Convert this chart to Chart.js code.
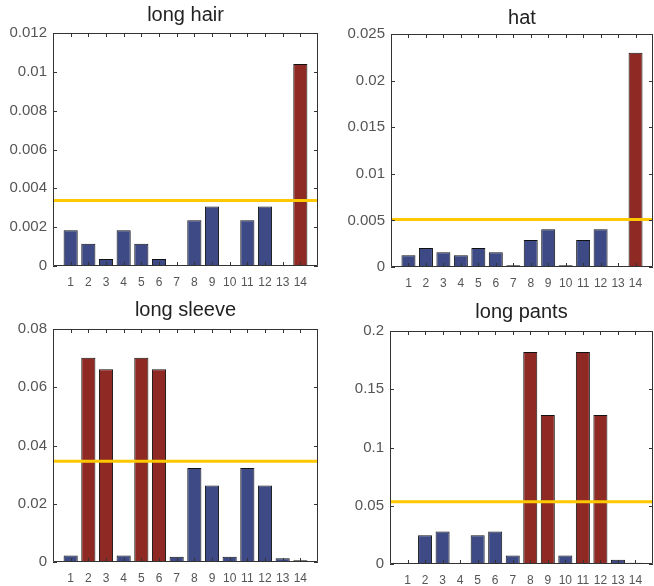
<!DOCTYPE html>
<html>
<head>
<meta charset="utf-8">
<script src="https://cdn.jsdelivr.net/npm/chart.js@4/dist/chart.umd.min.js"></script>
<style>
  html, body { margin: 0; padding: 0; background: #fff; }
  body { width: 654px; height: 586px; overflow: hidden; position: relative; }
  canvas { position: absolute; }
</style>
</head>
<body>
<canvas id="c0"></canvas>
<canvas id="c1"></canvas>
<canvas id="c2"></canvas>
<canvas id="c3"></canvas>
<script>
// data
const categories = [1, 2, 3, 4, 5, 6, 7, 8, 9, 10, 11, 12, 13, 14];
const titles = ["long hair", "hat", "long sleeve", "long pants"];

const longHair = [0.00184, 0.00115, 0.00036, 0.00184, 0.00115, 0.00036, 0.00002, 0.00236, 0.00306, 0.00002, 0.00236, 0.00306, 0.00005, 0.0104];
const hat = [0.00125, 0.00204, 0.00158, 0.00125, 0.00204, 0.00158, 0.0002, 0.0029, 0.00405, 0.0002, 0.0029, 0.00405, 0.00003, 0.0230];
const longSleeve = [0.0022, 0.0701, 0.0662, 0.0022, 0.0701, 0.0662, 0.0018, 0.0323, 0.0263, 0.0018, 0.0323, 0.0263, 0.0013, 0.0006];
const longPants = [0.0002, 0.0247, 0.0278, 0.0002, 0.0247, 0.0278, 0.0072, 0.182, 0.128, 0.0072, 0.182, 0.128, 0.0037, 0.0011];
const series = [longHair, hat, longSleeve, longPants];

const thresholds = [0.00337, 0.0051, 0.0346, 0.0534];
const yMax = [0.012, 0.025, 0.08, 0.2];
const yStep = [0.002, 0.005, 0.02, 0.05];

// layout of the four panels (canvas box + plot box inside it, title centre y)
const panels = [
    { left: 0,   top: 0,   w: 327, h: 290, pl: 53, pr: 319, pt: 33, pb: 266, ty: 15 },
    { left: 327, top: 0,   w: 335, h: 290, pl: 64, pr: 330, pt: 34, pb: 267, ty: 18 },
    { left: 0,   top: 290, w: 327, h: 296, pl: 53, pr: 318, pt: 39, pb: 272, ty: 20 },
    { left: 327, top: 290, w: 335, h: 296, pl: 63, pr: 330, pt: 41, pb: 274, ty: 22 }
];

const BLUE = '#3d4a86';
const RED = '#8f2924';
const YELLOW = '#ffc800';
const FONT = 'Liberation Sans, Arial, sans-serif';

// box round the plot with matlab-style inward ticks, title centred on the plot
const boxTicks = {
    id: 'boxTicks',
    afterDatasetsDraw(chart, args, opts) {
        const { ctx, chartArea: a, scales } = chart;
        const len = 4;
        ctx.save();
        ctx.strokeStyle = '#333';
        ctx.lineWidth = 1;
        ctx.beginPath();
        ctx.rect(a.left + 0.5, a.top + 0.5, a.right - a.left - 1, a.bottom - a.top - 1);
        scales.y.ticks.forEach(t => {
            const y = Math.round(scales.y.getPixelForValue(t.value)) + 0.5;
            ctx.moveTo(a.left, y); ctx.lineTo(a.left + len, y);
            ctx.moveTo(a.right, y); ctx.lineTo(a.right - len, y);
        });
        categories.forEach(c => {
            const x = Math.round(scales.x.getPixelForValue(c)) + 0.5;
            ctx.moveTo(x, a.top); ctx.lineTo(x, a.top + len);
            ctx.moveTo(x, a.bottom); ctx.lineTo(x, a.bottom - len);
        });
        ctx.stroke();

        ctx.fillStyle = '#222';
        ctx.font = '20px ' + FONT;
        ctx.textAlign = 'center';
        ctx.textBaseline = 'middle';
        ctx.fillText(opts.text, (a.left + a.right) / 2, opts.y);
        ctx.restore();
    }
};

panels.forEach((p, i) => {
    const cv = document.getElementById('c' + i);
    cv.width = p.w; cv.height = p.h;
    cv.style.left = p.left + 'px';
    cv.style.top = p.top + 'px';

    const vals = series[i];
    const thr = thresholds[i];

    new Chart(cv.getContext('2d'), {
        type: 'bar',
        data: {
            datasets: [
                {
                    type: 'line',
                    data: [{ x: 0, y: thr }, { x: 15, y: thr }],
                    borderColor: YELLOW,
                    borderWidth: 3,
                    pointRadius: 0,
                    order: 0
                },
                {
                    type: 'bar',
                    data: categories.map((c, k) => ({ x: c, y: vals[k] })),
                    backgroundColor: vals.map(v => v > thr ? RED : BLUE),
                    borderColor: '#111',
                    borderWidth: 1,
                    borderSkipped: false,
                    minBarLength: 1,
                    barPercentage: 0.8,
                    categoryPercentage: 1,
                    order: 1
                }
            ]
        },
        options: {
            responsive: false,
            animation: false,
            layout: { padding: { left: 0, right: p.w - p.pr, top: p.pt, bottom: 0 } },
            plugins: {
                legend: { display: false },
                tooltip: { enabled: false },
                title: { display: false },
                boxTicks: { text: titles[i], y: p.ty }
            },
            scales: {
                x: {
                    type: 'linear',
                    offset: false,
                    min: 0,
                    max: 15,
                    grid: { display: false, drawTicks: false },
                    border: { display: false },
                    ticks: {
                        stepSize: 1,
                        autoSkip: false,
                        maxRotation: 0,
                        padding: 9,
                        color: '#555',
                        font: { family: FONT, size: 12 },
                        callback: v => (v >= 1 && v <= 14) ? String(v) : ''
                    },
                    afterFit: s => { s.height = p.h - p.pb; }
                },
                y: {
                    min: 0,
                    max: yMax[i],
                    grid: { display: false, drawTicks: false },
                    border: { display: false },
                    ticks: {
                        stepSize: yStep[i],
                        padding: 6,
                        color: '#555',
                        font: { family: FONT, size: 15 },
                        callback: v => String(Number(v.toFixed(6)))
                    },
                    afterFit: s => { s.width = p.pl; }
                }
            }
        },
        plugins: [boxTicks]
    });
});
</script>
</body>
</html>
